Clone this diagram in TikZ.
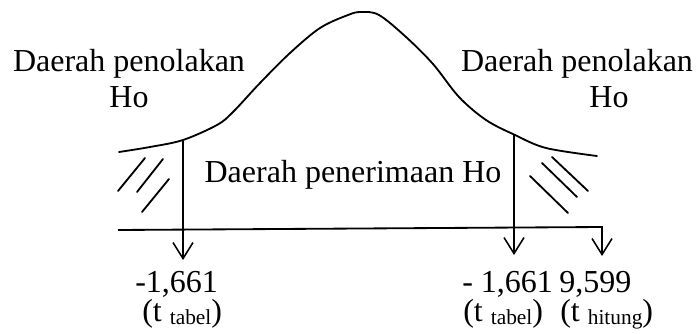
\documentclass[tikz,border=0pt]{standalone}
\usepackage{fontspec}
\setmainfont{Liberation Serif}
\usepackage{tikz}
\usetikzlibrary{arrows.meta,positioning}
\newcommand{\bigtxt}{\fontsize{22.76}{25.6}\selectfont}
\newcommand{\subtxt}[1]{\raisebox{-0.12em}{\fontsize{15.2}{18}\selectfont #1}}

\begin{document}
\begin{tikzpicture}[x=0.025cm, y=-0.025cm, every node/.style={font=\bigtxt,inner sep=0pt}]
    \tikzstyle{line}=[line width=1.3pt,line cap=round,black]
    \tikzstyle{pointer}=[line width=1.3pt,-{Straight Barb[length=4mm,width=5mm,line width=1.1pt]}]
    \tikzstyle{lbl}=[anchor=base,align=center]
    \useasboundingbox (0,0) rectangle (696,334);
    \draw[line] plot[smooth,tension=0.55] coordinates {(119,152) (150,147) (183,140) (217,125) (233,112) (260,83) (290,53) (320,28) (348,15) (361,12) (379,15) (406,37) (433,64) (459,97) (486,120) (515,135) (546,148) (597,156)};
    \coordinate (lcut) at (183,140);
    \coordinate (rcut) at (514,135);
    \coordinate (ltip) at (183,260);
    \coordinate (rtip) at (514,255);
    \coordinate (axl) at (118,230);
    \coordinate (axr) at (602,227);
    \coordinate (htip) at (602,256);
    \draw[line] (118,191) -- (145,158);
    \draw[line] (137,192) -- (163,159);
    \draw[line] (142,212) -- (169,179);
    \draw[line] (530,176) -- (568,213);
    \draw[line] (542,163) -- (577,197);
    \draw[line] (552,157) -- (588,191);
    \draw[pointer] (lcut) -- (ltip);
    \draw[pointer] (rcut) -- (rtip);
    \draw[pointer] (axl) -- (axr) -- (htip);
    \node[lbl] (lrej) at (129,72) {Daerah penolakan};
    \node[lbl] (lho) at (129,108) {Ho};
    \node[lbl] (rrej) at (577,72) {Daerah penolakan};
    \node[lbl] (rho) at (609,108) {Ho};
    \node[lbl] (accept) at (353,182) {Daerah penerimaan Ho};
    \node[anchor=base west] (lval) at (135,292) {-1,661};
    \node[anchor=base west] (ltab) at (142,321) {(t \subtxt{tabel})};
    \node[anchor=base west] (rval) at (462,292) {- 1,661};
    \node[anchor=base west] (hval) at (559,292) {9,599};
    \node[anchor=base west] (rtab) at (463,321) {(t \subtxt{tabel})};
    \node[anchor=base west] (htab) at (560,321) {(t \subtxt{hitung})};
\end{tikzpicture}
\end{document}
